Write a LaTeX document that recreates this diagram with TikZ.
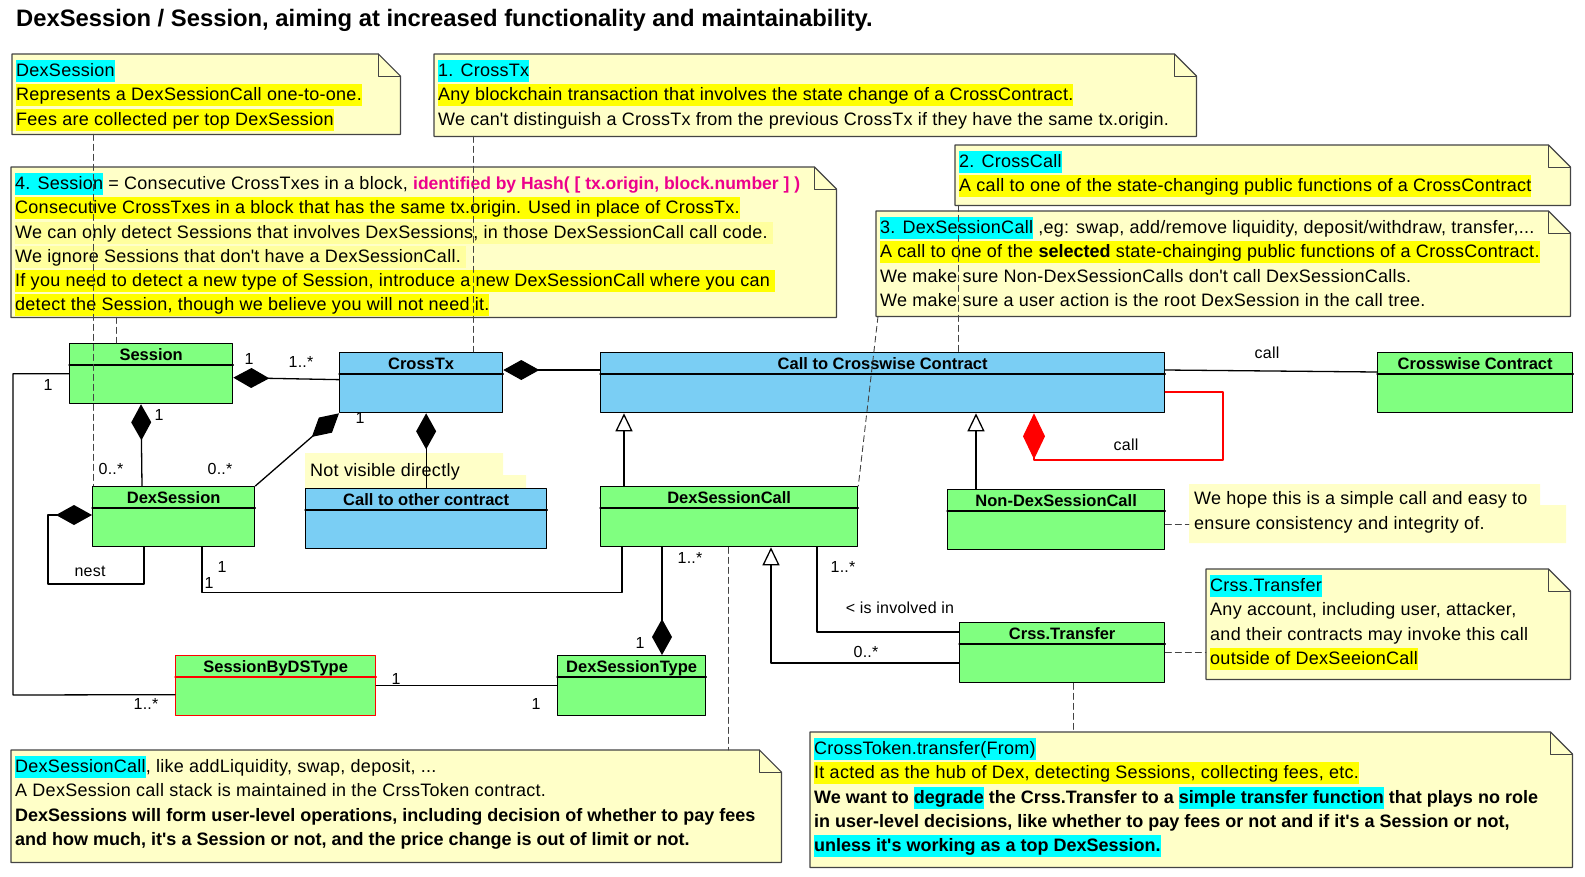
\documentclass[tikz,border=0pt]{standalone}
\usepackage{fontspec}
\setmainfont{Liberation Sans}[LetterSpace=1.5,BoldFeatures={LetterSpace=0}]
\usetikzlibrary{arrows.meta,calc}
\definecolor{clsgreen}{HTML}{80FF80}
\definecolor{clsblue}{HTML}{7ACEF4}
\definecolor{notefill}{HTML}{FFFFC8}
\definecolor{notegray}{HTML}{444444}
\definecolor{hlcyan}{HTML}{00FFFF}
\definecolor{hlyellow}{HTML}{FFFF00}
\definecolor{hlpale}{HTML}{FFFF9E}
\newcommand\hl[2]{{\setlength\fboxsep{0pt}\colorbox{#1}{\rule[-5.5pt]{0pt}{22pt}#2}}}
\newcommand\ap{\textquotesingle}

\begin{document}
\begin{tikzpicture}[x=1pt,y=-1pt,line cap=round,line join=round,
    every node/.style={inner sep=0pt,font=\fontsize{16}{19}\selectfont},
    cls/.style={draw,line width=1.3pt,minimum height=60,anchor=north west},
    clsname/.style={font=\fontsize{16.5}{20}\selectfont\bfseries,anchor=base},
    conn/.style={line width=1.3pt},
    comp/.style={conn,arrows={Diamond[length=36pt,width=20pt]-}},
    gen/.style={conn,arrows={-Triangle[fill=white,length=18pt,width=17pt]}},
    notebox/.style={minimum width=#1,anchor=north west},
    notetext/.style={anchor=north west,align=left,font=\fontsize{18}{24.2}\selectfont},
    hook/.style={draw=notegray,line width=0.9pt,dash pattern=on 6pt off 4pt}]
  % Class model of DexSession / Session with the notes round it.
  \useasboundingbox (0,0) rectangle (1585,876);
  \node[anchor=base west,font=\fontsize{23.8}{28}\selectfont\bfseries] (title) at (16,26)
    {DexSession / Session, aiming at increased functionality and maintainability.};

  \foreach \nm/\x/\y/\w/\h in {n1/12/54/388/80,n2/434/54/762/82,n3/955/145/615/60,n4/876/211/694/105,
      n5/11/167/825/150,n7/1206/569/364/110,n8/11/750/770/112,n9/810/732/762/135}{
    \node[notebox=\w,minimum height=\h] (\nm) at (\x,\y) {};
    \filldraw[fill=notefill,draw=notegray,line width=1.2pt] (\nm.north west) -- ($(\nm.north east)+(-22,0)$)
      -- ($(\nm.north east)+(0,22)$) -- (\nm.south east) -- (\nm.south west) -- cycle;
    \draw[notegray,line width=1pt] ($(\nm.north east)+(-22,0)$) |- ($(\nm.north east)+(0,22)$);
  }
  \fill[notefill] (1189,484) -- (1540,484) -- (1540,505) -- (1566,505) -- (1566,543) -- (1189,543) -- cycle;
  \coordinate (n6-in) at (1189,524);
  \fill[notefill] (305,453) -- (503,453) -- (503,475) -- (526,475) -- (526,488) -- (305,488) -- cycle;

  \node[notetext] (n1-txt) at ($(n1.north west)+(4,6)$) {\hl{hlcyan}{DexSession}\\
    \hl{hlyellow}{Represents a DexSessionCall one-to-one.}\\
    \hl{hlyellow}{Fees are collected per top DexSession}};
  \node[notetext] (n2-txt) at ($(n2.north west)+(4,6)$) {\hl{hlcyan}{1. CrossTx}\\
    \hl{hlyellow}{Any blockchain transaction that involves the state change of a CrossContract.}\\
    We can\ap t distinguish a CrossTx from the previous CrossTx if they have the same tx.origin.};
  \node[notetext] (n3-txt) at ($(n3.north west)+(4,6)$) {\hl{hlcyan}{2. CrossCall}\\
    \hl{hlyellow}{A call to one of the state-changing public functions of a CrossContract}};
  \node[notetext] (n4-txt) at ($(n4.north west)+(4,6)$) {\hl{hlcyan}{3. DexSessionCall} ,eg: swap, add/remove liquidity, deposit/withdraw, transfer,...\\
    \hl{hlyellow}{A call to one of the \textbf{selected} state-chainging public functions of a CrossContract.}\\
    We make sure Non-DexSessionCalls don\ap t call DexSessionCalls.\\
    We make sure a user action is the root DexSession in the call tree.};
  \node[notetext] (n5-txt) at ($(n5.north west)+(4,6)$) {\hl{hlcyan}{4. Session} = Consecutive CrossTxes in a block,
    \textcolor{magenta}{\fontsize{17.5}{24.2}\selectfont\bfseries identified by Hash( [ tx.origin, block.number ] )}\\
    \hl{hlyellow}{Consecutive CrossTxes in a block that has the same tx.origin. Used in place of CrossTx.}\\
    \hl{hlpale}{We can only detect Sessions that involves DexSessions, in those DexSessionCall call code.\ }\\
    \hl{hlpale}{We ignore Sessions that don\ap t have a DexSessionCall.\ }\\
    \hl{hlyellow}{If you need to detect a new type of Session, introduce a new DexSessionCall where you can\ }\\
    \hl{hlyellow}{detect the Session, though we believe you will not need it.}};
  \node[notetext,anchor=base west] (n6-txt) at (1194,529) {We hope this is a simple call and easy to\\
    ensure consistency and integrity of.};
  \node[notetext,anchor=base west] (nv-txt) at (310,476) {Not visible directly};
  \node[notetext] (n7-txt) at ($(n7.north west)+(4,6)$) {\hl{hlcyan}{Crss.Transfer}\\
    Any account, including user, attacker,\\
    and their contracts may invoke this call\\
    \hl{hlyellow}{outside of DexSeeionCall}};
  \node[notetext] (n8-txt) at ($(n8.north west)+(4,6)$) {\hl{hlcyan}{DexSessionCall}, like addLiquidity, swap, deposit, ...\\
    A DexSession call stack is maintained in the CrssToken contract.\\
    \textbf{DexSessions will form user-level operations, including decision of whether to pay fees}\\
    \textbf{and how much, it\ap s a Session or not, and the price change is out of limit or not.}};
  \node[notetext] (n9-txt) at ($(n9.north west)+(4,6)$) {\hl{hlcyan}{CrossToken.transfer(From)}\\
    \hl{hlyellow}{It acted as the hub of Dex, detecting Sessions, collecting fees, etc.}\\
    \textbf{We want to \hl{hlcyan}{degrade} the Crss.Transfer to a \hl{hlcyan}{simple transfer function} that plays no role}\\
    \textbf{in user-level decisions, like whether to pay fees or not and if it\ap s a Session or not,}\\
    \textbf{\hl{hlcyan}{unless it\ap s working as a top DexSession.}}};

  \foreach \nm/\x/\y/\w/\fc/\dc/\ttl in {session/69/343/163/clsgreen/black/Session,
      crosstx/339/352/163/clsblue/black/CrossTx,
      callcw/600/352/564/clsblue/black/Call to Crosswise Contract,
      crosswise/1377/352/195/clsgreen/black/Crosswise Contract,
      dexsess/92/486/162/clsgreen/black/DexSession,
      callother/305/488/241/clsblue/black/Call to other contract,
      dscall/600/486/257/clsgreen/black/DexSessionCall,
      nondscall/947/489/217/clsgreen/black/Non-DexSessionCall,
      crsstransfer/959/622/205/clsgreen/black/Crss.Transfer,
      sessbytype/175/655/200/clsgreen/red/SessionByDSType,
      dstype/557/655/148/clsgreen/black/DexSessionType}{
    \node[cls,fill=\fc,draw=\dc,minimum width=\w] (\nm) at (\x,\y) {};
    \draw[draw=\dc,line width=1.3pt] ($(\nm.north west)+(0,22)$) -- ($(\nm.north east)+(0,22)$);
    \node[clsname] (\nm-name) at ($(\nm.north)+(0,17)$) {\ttl};
  }

  \draw[comp] ($(session.east)+(0,4)$) -- ($(crosstx.west)+(0,-3)$);
  \draw[comp] ($(session.south west)+(72,0)$) -- ($(dexsess.north west)+(50,0)$);
  \draw[comp] (crosstx.south west) -- (dexsess.north east);
  \draw[comp] (crosstx.south -| callother.north) -- (callother.north);
  \draw[comp] ($(crosstx.north east)+(0,18)$) -- ($(callcw.north west)+(0,18)$);
  \draw[conn] ($(callcw.north east)+(0,18)$) -- ($(crosswise.north west)+(0,20)$);
  \draw[conn,red,arrows={Diamond[length=46pt,width=22pt]-}] ($(callcw.south west)+(434,0)$) |- (1223,460)
    |- ($(callcw.north east)+(0,40)$);
  \draw[gen] ($(dscall.north west)+(24,0)$) -- ($(callcw.south west)+(24,0)$);
  \draw[gen] ($(nondscall.north west)+(29,0)$) -- ($(callcw.south west)+(376,0)$);
  \draw[conn] ($(dexsess.south west)+(110,0)$) -- ++(0,45) -| ($(dscall.south west)+(22,0)$);
  \draw[comp] ($(dexsess.north west)+(0,29)$) -| (48,584) -| ($(dexsess.south west)+(52,0)$);
  \draw[conn] (session.west) -| (13,695) -- ($(sessbytype.west)+(0,9)$);
  \draw[conn] (sessbytype.east) -- (dstype.west);
  \draw[conn,arrows={-Diamond[length=36pt,width=20pt]}] ($(dscall.south west)+(62,0)$) -- ($(dstype.north west)+(105,0)$);
  \draw[gen] ($(crsstransfer.north west)+(0,41)$) -| ($(dscall.south west)+(171,0)$);
  \draw[conn] ($(dscall.south west)+(217,0)$) |- ($(crsstransfer.north west)+(0,10)$);

  \node (m1) at (249,359) {1};
  \node (m2) at (301,362) {1..*};
  \node (m3) at (159,415) {1};
  \node (m4) at (111,469) {0..*};
  \node (m5) at (360,418) {1};
  \node (m6) at (220,469) {0..*};
  \node (m7) at (1267,353) {call};
  \node (m8) at (1126,445) {call};
  \node (m9) at (222,567) {1};
  \node (m10) at (209,583) {1};
  \node (m11) at (90,571) {nest};
  \node (m12) at (48,385) {1};
  \node (m13) at (146,704) {1..*};
  \node (m14) at (396,679) {1};
  \node (m15) at (536,704) {1};
  \node (m16) at (690,558) {1..*};
  \node (m17) at (640,643) {1};
  \node (m18) at (866,652) {0..*};
  \node (m19) at (843,567) {1..*};
  \node (m20) at (900,608) {< is involved in};

  \draw[hook] ($(n1.south west)+(81,0)$) -- ($(dexsess.north west)+(1,0)$);
  \draw[hook] ($(n5.south west)+(105,0)$) -- ($(session.north west)+(47,0)$);
  \draw[hook] ($(n2.south west)+(39,0)$) -- ($(crosstx.north west)+(134,0)$);
  \draw[hook] ($(n3.south west)+(3,0)$) -- ($(callcw.north west)+(358,0)$);
  \draw[hook] ($(n4.south west)+(2,0)$) -- (dscall.north east);
  \draw[hook] ($(nondscall.north east)+(0,35)$) -- (n6-in);
  \draw[hook] ($(crsstransfer.north east)+(0,30)$) -- ($(n7.north west)+(0,83)$);
  \draw[hook] ($(crsstransfer.south west)+(114,0)$) -- ($(n9.north west)+(263,0)$);
  \draw[hook] ($(dscall.south west)+(128,0)$) -- ($(n8.north west)+(717,0)$);
\end{tikzpicture}
\end{document}
